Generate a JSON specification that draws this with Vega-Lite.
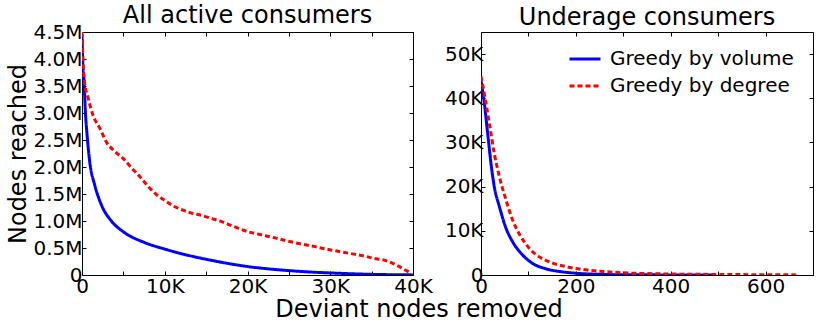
{
  "$schema": "https://vega.github.io/schema/vega-lite/v6.json",
  "background": "white",
  "padding": {"left": 5, "top": 3, "right": 5, "bottom": 2},
  "bounds": "flush",
  "spacing": 68,
  "resolve": {"legend": {"color": "independent", "strokeDash": "independent"}},
  "config": {
    "font": "DejaVu Sans",
    "view": {"stroke": "black", "strokeWidth": 1},
    "axis": {
      "labelFont": "DejaVu Sans", "labelFontSize": 20, "labelColor": "black",
      "titleFont": "DejaVu Sans", "titleFontSize": 24, "titleFontWeight": "normal", "titleColor": "black",
      "tickColor": "black", "tickSize": -4, "tickWidth": 1, "domain": false, "grid": false,
      "labelFlush": false, "labelOverlap": false, "labelBound": false, "labelPadding": 5
    },
    "title": {"font": "DejaVu Sans", "fontSize": 24, "fontWeight": "normal", "color": "black", "baseline": "alphabetic", "frame": "group"},
    "legend": {"labelFont": "DejaVu Sans", "labelFontSize": 20, "labelColor": "black", "labelLimit": 0}
  },
  "datasets": {
    "left": [
      {"series": "Greedy by volume", "x": 0, "y": 4450000},
      {"series": "Greedy by volume", "x": 100, "y": 3900000},
      {"series": "Greedy by volume", "x": 240, "y": 3620000},
      {"series": "Greedy by volume", "x": 400, "y": 3050000},
      {"series": "Greedy by volume", "x": 645, "y": 2540000},
      {"series": "Greedy by volume", "x": 930, "y": 2100000},
      {"series": "Greedy by volume", "x": 1530, "y": 1670000},
      {"series": "Greedy by volume", "x": 2340, "y": 1300000},
      {"series": "Greedy by volume", "x": 3550, "y": 1000000},
      {"series": "Greedy by volume", "x": 5000, "y": 800000},
      {"series": "Greedy by volume", "x": 7570, "y": 600000},
      {"series": "Greedy by volume", "x": 10000, "y": 480000},
      {"series": "Greedy by volume", "x": 12800, "y": 365000},
      {"series": "Greedy by volume", "x": 15200, "y": 285000},
      {"series": "Greedy by volume", "x": 17600, "y": 215000},
      {"series": "Greedy by volume", "x": 20100, "y": 155000},
      {"series": "Greedy by volume", "x": 22600, "y": 112000},
      {"series": "Greedy by volume", "x": 25100, "y": 80000},
      {"series": "Greedy by volume", "x": 27600, "y": 55000},
      {"series": "Greedy by volume", "x": 30200, "y": 37000},
      {"series": "Greedy by volume", "x": 35000, "y": 12000},
      {"series": "Greedy by volume", "x": 40000, "y": 2000},
      {"series": "Greedy by degree", "x": 0, "y": 4500000},
      {"series": "Greedy by degree", "x": 120, "y": 3960000},
      {"series": "Greedy by degree", "x": 320, "y": 3550000},
      {"series": "Greedy by degree", "x": 700, "y": 3300000},
      {"series": "Greedy by degree", "x": 1300, "y": 2970000},
      {"series": "Greedy by degree", "x": 2140, "y": 2720000},
      {"series": "Greedy by degree", "x": 3000, "y": 2450000},
      {"series": "Greedy by degree", "x": 3950, "y": 2290000},
      {"series": "Greedy by degree", "x": 4960, "y": 2160000},
      {"series": "Greedy by degree", "x": 6000, "y": 1980000},
      {"series": "Greedy by degree", "x": 7000, "y": 1820000},
      {"series": "Greedy by degree", "x": 8000, "y": 1640000},
      {"series": "Greedy by degree", "x": 9000, "y": 1490000},
      {"series": "Greedy by degree", "x": 10000, "y": 1380000},
      {"series": "Greedy by degree", "x": 11000, "y": 1280000},
      {"series": "Greedy by degree", "x": 12200, "y": 1200000},
      {"series": "Greedy by degree", "x": 13400, "y": 1140000},
      {"series": "Greedy by degree", "x": 14300, "y": 1110000},
      {"series": "Greedy by degree", "x": 15800, "y": 1040000},
      {"series": "Greedy by degree", "x": 17000, "y": 980000},
      {"series": "Greedy by degree", "x": 18300, "y": 900000},
      {"series": "Greedy by degree", "x": 20100, "y": 800000},
      {"series": "Greedy by degree", "x": 21500, "y": 750000},
      {"series": "Greedy by degree", "x": 23500, "y": 680000},
      {"series": "Greedy by degree", "x": 25100, "y": 620000},
      {"series": "Greedy by degree", "x": 26300, "y": 580000},
      {"series": "Greedy by degree", "x": 28000, "y": 530000},
      {"series": "Greedy by degree", "x": 29200, "y": 490000},
      {"series": "Greedy by degree", "x": 30200, "y": 460000},
      {"series": "Greedy by degree", "x": 32000, "y": 410000},
      {"series": "Greedy by degree", "x": 34400, "y": 340000},
      {"series": "Greedy by degree", "x": 35200, "y": 310000},
      {"series": "Greedy by degree", "x": 36400, "y": 280000},
      {"series": "Greedy by degree", "x": 37500, "y": 220000},
      {"series": "Greedy by degree", "x": 38400, "y": 150000},
      {"series": "Greedy by degree", "x": 39200, "y": 80000},
      {"series": "Greedy by degree", "x": 39800, "y": 30000}
    ],
    "right": [
      {"series": "Greedy by volume", "x": 0, "y": 44000},
      {"series": "Greedy by volume", "x": 7, "y": 38900},
      {"series": "Greedy by volume", "x": 14, "y": 32100},
      {"series": "Greedy by volume", "x": 21, "y": 25300},
      {"series": "Greedy by volume", "x": 28, "y": 20000},
      {"series": "Greedy by volume", "x": 38.7, "y": 15500},
      {"series": "Greedy by volume", "x": 52.7, "y": 10600},
      {"series": "Greedy by volume", "x": 66.8, "y": 7500},
      {"series": "Greedy by volume", "x": 88, "y": 4500},
      {"series": "Greedy by volume", "x": 109, "y": 2600},
      {"series": "Greedy by volume", "x": 137, "y": 1400},
      {"series": "Greedy by volume", "x": 172, "y": 700},
      {"series": "Greedy by volume", "x": 200, "y": 400},
      {"series": "Greedy by volume", "x": 250, "y": 150},
      {"series": "Greedy by volume", "x": 300, "y": 60},
      {"series": "Greedy by volume", "x": 400, "y": 20},
      {"series": "Greedy by volume", "x": 495, "y": 0},
      {"series": "Greedy by degree", "x": 0, "y": 45000},
      {"series": "Greedy by degree", "x": 7, "y": 41000},
      {"series": "Greedy by degree", "x": 17.6, "y": 34300},
      {"series": "Greedy by degree", "x": 28, "y": 27500},
      {"series": "Greedy by degree", "x": 38.7, "y": 22300},
      {"series": "Greedy by degree", "x": 52.7, "y": 17000},
      {"series": "Greedy by degree", "x": 66.8, "y": 12400},
      {"series": "Greedy by degree", "x": 84, "y": 8700},
      {"series": "Greedy by degree", "x": 102, "y": 6000},
      {"series": "Greedy by degree", "x": 123, "y": 4100},
      {"series": "Greedy by degree", "x": 151, "y": 2700},
      {"series": "Greedy by degree", "x": 179, "y": 1900},
      {"series": "Greedy by degree", "x": 214, "y": 1250},
      {"series": "Greedy by degree", "x": 257, "y": 800},
      {"series": "Greedy by degree", "x": 300, "y": 500},
      {"series": "Greedy by degree", "x": 350, "y": 320},
      {"series": "Greedy by degree", "x": 400, "y": 220},
      {"series": "Greedy by degree", "x": 500, "y": 120},
      {"series": "Greedy by degree", "x": 600, "y": 60},
      {"series": "Greedy by degree", "x": 670, "y": 20}
    ]
  },
  "hconcat": [
    {
      "width": 331,
      "height": 243,
      "title": {"text": "All active consumers", "offset": -6},
      "data": {"name": "left"},
      "layer": [
        {
          "mark": {"type": "line", "clip": true, "strokeWidth": 3, "interpolate": "monotone"},
          "encoding": {
            "x": {"field": "x", "type": "quantitative",
              "scale": {"domain": [0, 40000], "nice": false, "zero": false},
              "axis": {"orient": "bottom", "values": [0, 5000, 10000, 15000, 20000, 25000, 30000, 35000, 40000],
                "labelExpr": "datum.value == 0 ? '0' : (datum.value % 10000 == 0 ? (datum.value / 1000) + 'K' : '')",
                "title": "Deviant nodes removed", "titleX": 336.5, "titleY": 41, "titleAlign": "center", "titleBaseline": "alphabetic", "titleAnchor": null}},
            "y": {"field": "y", "type": "quantitative",
              "scale": {"domain": [0, 4500000], "nice": false},
              "axis": {"orient": "left", "values": [0, 500000, 1000000, 1500000, 2000000, 2500000, 3000000, 3500000, 4000000, 4500000],
                "labelExpr": "datum.value == 0 ? '0' : format(datum.value / 1000000, '.1f') + 'M'",
                "labelPadding": 4,
                "title": "Nodes reached", "titleX": -57, "titleY": 121.5, "titleAngle": -90, "titleAlign": "center", "titleBaseline": "alphabetic"}},
            "color": {"field": "series", "type": "nominal",
              "scale": {"domain": ["Greedy by volume", "Greedy by degree"], "range": ["#0000ff", "#ff0000"]}, "legend": null},
            "strokeDash": {"field": "series", "type": "nominal",
              "scale": {"domain": ["Greedy by volume", "Greedy by degree"], "range": [[1, 0], [5, 3]]}, "legend": null}
          }
        },
        {
          "mark": {"type": "line", "opacity": 0},
          "encoding": {
            "x": {"field": "x", "type": "quantitative",
              "axis": {"orient": "top", "values": [0, 5000, 10000, 15000, 20000, 25000, 30000, 35000, 40000], "labels": false, "title": null}},
            "y": {"field": "y", "type": "quantitative",
              "axis": {"orient": "right", "values": [0, 500000, 1000000, 1500000, 2000000, 2500000, 3000000, 3500000, 4000000, 4500000], "labels": false, "title": null}}
          }
        }
      ],
      "resolve": {"axis": {"x": "independent", "y": "independent"}}
    },
    {
      "width": 332,
      "height": 243,
      "title": {"text": "Underage consumers", "offset": 2},
      "data": {"name": "right"},
      "layer": [
        {
          "mark": {"type": "line", "clip": true, "strokeWidth": 3, "interpolate": "monotone"},
          "encoding": {
            "x": {"field": "x", "type": "quantitative",
              "scale": {"domain": [0, 700], "nice": false, "zero": false},
              "axis": {"orient": "bottom", "values": [0, 100, 200, 300, 400, 500, 600, 700],
                "labelExpr": "datum.value % 200 == 0 ? '' + datum.value : ''",
                "title": null}},
            "y": {"field": "y", "type": "quantitative",
              "scale": {"domain": [0, 55000], "nice": false},
              "axis": {"orient": "left", "values": [0, 10000, 20000, 30000, 40000, 50000],
                "labelExpr": "datum.value == 0 ? '0' : (datum.value / 1000) + 'K'",
                "labelPadding": 2,
                "title": null}},
            "color": {"field": "series", "type": "nominal",
              "scale": {"domain": ["Greedy by volume", "Greedy by degree"], "range": ["#0000ff", "#ff0000"]},
              "legend": {"title": null, "orient": "none", "legendX": 87, "legendY": 10, "symbolType": "stroke", "symbolSize": 961, "symbolStrokeWidth": 3, "labelOffset": 8, "rowPadding": -12, "padding": 0}},
            "strokeDash": {"field": "series", "type": "nominal",
              "scale": {"domain": ["Greedy by volume", "Greedy by degree"], "range": [[1, 0], [5, 3]]},
              "legend": {"title": null, "orient": "none", "legendX": 87, "legendY": 10, "symbolType": "stroke", "symbolSize": 961, "symbolStrokeWidth": 3, "labelOffset": 8, "rowPadding": -12, "padding": 0}}
          }
        },
        {
          "mark": {"type": "line", "opacity": 0},
          "encoding": {
            "x": {"field": "x", "type": "quantitative",
              "axis": {"orient": "top", "values": [0, 100, 200, 300, 400, 500, 600, 700], "labels": false, "title": null}},
            "y": {"field": "y", "type": "quantitative",
              "axis": {"orient": "right", "values": [0, 10000, 20000, 30000, 40000, 50000], "labels": false, "title": null}}
          }
        }
      ],
      "resolve": {"axis": {"x": "independent", "y": "independent"}}
    }
  ]
}
